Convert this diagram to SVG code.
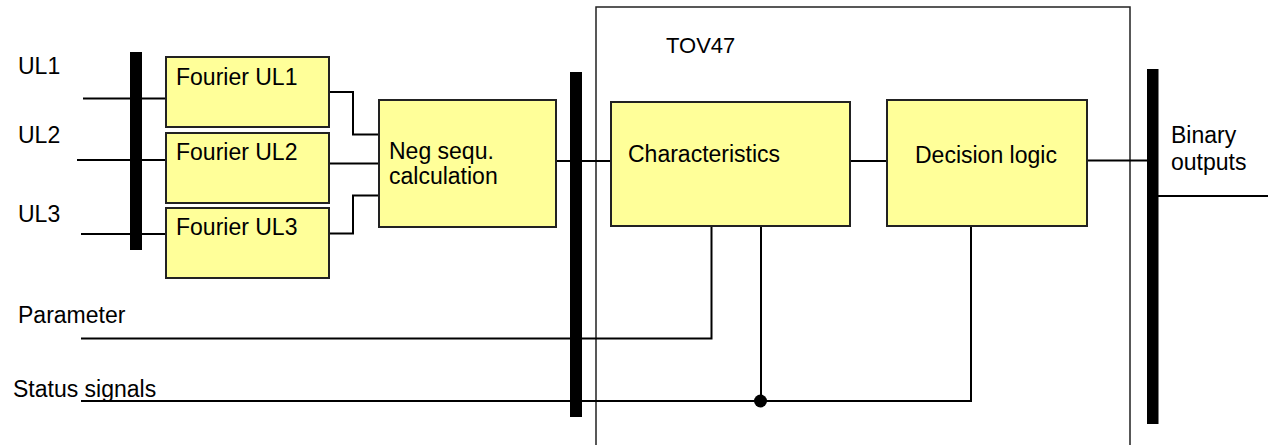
<svg xmlns="http://www.w3.org/2000/svg" width="1268" height="445" viewBox="0 0 1268 445">
<style>
  .box { fill: #FFFF99; stroke: #222; stroke-width: 2; }
  .bar { fill: #000; }
  .ln { fill: none; stroke: #000; stroke-width: 2; }
  .frame { fill: none; stroke: #222; stroke-width: 1.5; }
  text { font-family: "Liberation Sans", Arial, sans-serif; font-size: 23px; fill: #000; }
</style>
<rect width="1268" height="445" fill="#fff"/>
<g id="tov47">
  <path class="frame" d="M596,445 V7 H1130 V445"/>
  <text x="666" y="53" style="font-size:22px">TOV47</text>
</g>
<g id="connectors">
  <path class="ln" d="M83,98.5 H166"/>
  <path class="ln" d="M77,160 H166"/>
  <path class="ln" d="M81,234 H166"/>
  <path class="ln" d="M329,92 H353 V134.5 H379"/>
  <path class="ln" d="M329,163.5 H379"/>
  <path class="ln" d="M329,233.5 H353 V195.5 H379"/>
  <path class="ln" d="M556,161 H611"/>
  <path class="ln" d="M850,161 H887"/>
  <path class="ln" d="M1080,160.5 H1147"/>
  <path class="ln" d="M1158,196 H1268"/>
  <path class="ln" d="M81,338.5 H711.5 V226"/>
  <path class="ln" d="M81,401 H971 V226"/>
  <path class="ln" d="M761,226 V401"/>
  <circle cx="760.5" cy="401" r="6.5" fill="#000"/>
</g>
<g id="bar-in"><rect class="bar" x="130" y="52" width="12" height="198"/></g>
<g id="bar-mid"><rect class="bar" x="570" y="72" width="12" height="345"/></g>
<g id="bar-out"><rect class="bar" x="1147" y="69" width="11.5" height="355"/></g>
<g id="labels-in">
  <text x="18" y="74">UL1</text>
  <text x="18" y="143">UL2</text>
  <text x="18" y="222">UL3</text>
  <text x="18" y="323">Parameter</text>
  <text x="13" y="397">Status signals</text>
</g>
<g id="fourier-ul1">
  <rect class="box" x="166" y="57" width="163" height="70"/>
  <text x="176" y="85">Fourier UL1</text>
</g>
<g id="fourier-ul2">
  <rect class="box" x="166" y="133" width="163" height="70"/>
  <text x="176" y="159.5">Fourier UL2</text>
</g>
<g id="fourier-ul3">
  <rect class="box" x="166" y="208" width="163" height="70"/>
  <text x="176" y="234.5">Fourier UL3</text>
</g>
<g id="neg-sequ">
  <rect class="box" x="379" y="100" width="177" height="127"/>
  <text x="389" y="158.5">Neg sequ.</text>
  <text x="389" y="183.5">calculation</text>
</g>
<g id="characteristics">
  <rect class="box" x="611" y="102" width="239" height="124"/>
  <text x="628" y="162">Characteristics</text>
</g>
<g id="decision-logic">
  <rect class="box" x="887" y="100" width="200" height="126"/>
  <text x="915" y="163">Decision logic</text>
</g>
<g id="binary-outputs">
  <text x="1171" y="143">Binary</text>
  <text x="1171" y="169.5">outputs</text>
</g>
</svg>
